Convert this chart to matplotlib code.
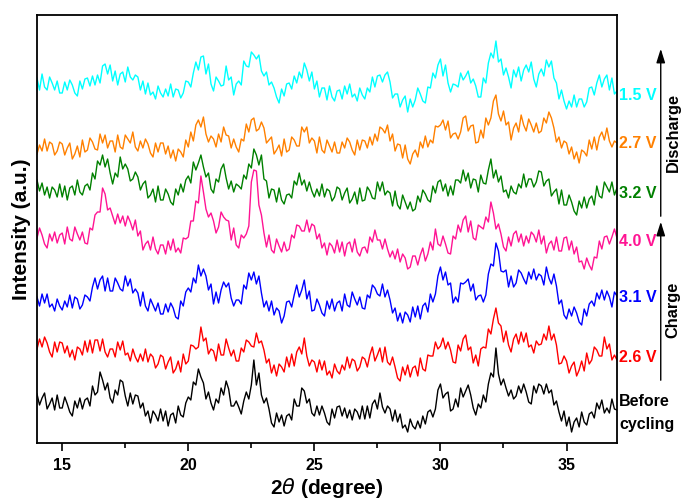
import numpy as np
import matplotlib
matplotlib.use('Agg')
import matplotlib.pyplot as plt

plt.rcParams['font.family'] = ['Liberation Sans', 'DejaVu Sans']

# 2theta grid, 0.1 degree steps from 14.0 to 37.0
two_theta = np.round(np.arange(14.0, 37.05, 0.1), 1)

# intensities (a.u.), one row per degree
before_cycling = [
    34, 23, 30, 35, 19, 24, 30, 18, 33, 20,
    20, 31, 24, 16, 12, 27, 20, 30, 19, 28,
    30, 22, 42, 33, 36, 56, 48, 38, 45, 30,
    25, 38, 33, 48, 46, 32, 22, 35, 24, 33,
    32, 20, 25, 12, 17, 5, 17, 13, 7, 19,
    7, 17, 2, 13, 15, 5, 22, 13, 11, 25,
    31, 28, 46, 43, 59, 51, 45, 29, 36, 25,
    18, 29, 25, 40, 33, 47, 39, 22, 22, 27,
    21, 14, 27, 36, 29, 43, 68, 43, 55, 33,
    25, 30, 19, 5, 1, 15, 6, 13, 2, 12,
    14, 8, 29, 22, 22, 40, 37, 25, 29, 15,
    12, 22, 13, 22, 15, 6, 3, 19, 10, 21,
    22, 12, 20, 10, 18, 8, 19, 16, 9, 22,
    9, 22, 10, 24, 28, 19, 35, 21, 15, 22,
    19, 7, 18, 6, 14, 0, 3, -4, 9, 2,
    -1, 7, 0, 12, 4, 16, 18, 11, 19, 38,
    44, 30, 34, 36, 17, 19, 29, 21, 40, 31,
    37, 43, 33, 20, 13, 24, 20, 33, 26, 44,
    55, 51, 80, 54, 43, 49, 40, 32, 38, 29,
    32, 42, 35, 44, 36, 26, 24, 42, 35, 44,
    42, 34, 44, 35, 38, 23, 27, 16, 7, 17,
    2, 11, -4, 6, 10, 1, 16, 6, 3, 14,
    16, 10, 25, 19, 28, 15, 20, 15, 29, 19,
    18]

charge_2p6 = [
    29, 39, 31, 41, 35, 26, 21, 36, 26, 36,
    35, 25, 32, 21, 28, 18, 31, 29, 23, 37,
    26, 38, 25, 38, 38, 27, 39, 26, 21, 29,
    29, 21, 36, 28, 37, 23, 25, 17, 29, 21,
    16, 24, 17, 29, 16, 24, 21, 10, 14, 23,
    21, 9, 16, 21, 5, 9, 17, 6, 24, 14,
    17, 33, 32, 29, 31, 51, 37, 40, 24, 29,
    27, 17, 34, 23, 23, 39, 30, 22, 28, 17,
    17, 30, 26, 38, 36, 32, 31, 45, 35, 37,
    28, 15, 19, 5, 13, 2, 14, 11, 6, 21,
    11, 24, 12, 26, 31, 24, 40, 22, 12, 18,
    16, 6, 18, 8, 17, 3, 7, 0, 14, 7,
    4, 13, 8, 21, 10, 19, 17, 7, 11, 21,
    19, 11, 23, 31, 17, 23, 30, 16, 31, 16,
    13, 21, 11, 0, -3, 11, 3, 13, 1, 10,
    12, 2, 20, 9, 7, 23, 22, 22, 36, 29,
    32, 40, 29, 36, 28, 16, 15, 33, 27, 39,
    43, 28, 31, 15, 23, 12, 29, 31, 30, 49,
    44, 59, 70, 55, 52, 36, 47, 33, 26, 39,
    44, 34, 46, 36, 45, 31, 33, 25, 37, 33,
    34, 44, 38, 52, 38, 44, 33, 14, 15, 22,
    17, 5, 12, 16, 2, 8, 17, 7, 25, 14,
    18, 31, 28, 22, 22, 41, 29, 34, 18, 23,
    18]

charge_3p1 = [
    26, 17, 29, 20, 29, 16, 19, 12, 24, 17,
    13, 22, 16, 28, 15, 26, 24, 14, 18, 28,
    26, 22, 36, 45, 34, 43, 47, 32, 45, 32,
    32, 45, 40, 34, 32, 47, 37, 44, 30, 34,
    30, 17, 31, 17, 12, 24, 18, 12, 20, 9,
    9, 19, 11, 20, 15, 6, 4, 22, 17, 31,
    35, 31, 45, 40, 58, 47, 54, 47, 33, 39,
    19, 31, 20, 33, 41, 36, 40, 25, 17, 23,
    23, 19, 38, 34, 50, 43, 51, 39, 47, 30,
    16, 22, 12, 22, 8, 15, 12, 0, 7, 21,
    22, 16, 28, 38, 26, 33, 43, 24, 32, 12,
    13, 24, 18, 10, 7, 22, 14, 24, 12, 20,
    22, 12, 29, 18, 16, 31, 24, 18, 26, 15,
    14, 28, 25, 38, 35, 29, 27, 39, 26, 33,
    23, 10, 15, 2, 10, 0, 11, 8, 1, 16,
    6, 17, 4, 17, 20, 11, 29, 21, 29, 47,
    56, 43, 51, 38, 40, 20, 26, 21, 40, 39,
    41, 44, 32, 39, 23, 27, 28, 21, 28, 49,
    59, 57, 80, 72, 52, 51, 53, 36, 47, 36,
    40, 53, 50, 44, 39, 51, 44, 54, 43, 49,
    47, 38, 56, 45, 39, 49, 37, 19, 23, 8,
    4, 14, 7, 16, 10, 1, -2, 14, 7, 19,
    22, 17, 30, 24, 33, 23, 32, 26, 16, 31,
    27]

charge_4p0 = [
    30, 40, 33, 24, 20, 34, 27, 36, 25, 33,
    35, 24, 41, 29, 27, 41, 34, 28, 36, 25,
    24, 40, 38, 53, 56, 56, 80, 74, 58, 60,
    52, 44, 54, 45, 52, 42, 52, 46, 38, 48,
    32, 37, 18, 24, 27, 18, 31, 19, 14, 23,
    23, 14, 27, 18, 29, 16, 20, 15, 30, 29,
    31, 47, 47, 67, 65, 92, 76, 59, 51, 55,
    47, 35, 41, 56, 51, 48, 47, 28, 40, 23,
    20, 33, 30, 34, 42, 86, 98, 97, 63, 53,
    35, 21, 33, 18, 15, 29, 22, 16, 26, 17,
    19, 33, 30, 43, 42, 37, 37, 48, 36, 44,
    42, 29, 34, 20, 25, 13, 25, 22, 15, 28,
    16, 26, 12, 24, 26, 16, 29, 16, 12, 20,
    21, 15, 31, 26, 38, 28, 28, 19, 29, 19,
    11, 17, 9, 19, 6, 14, 10, -1, 1, 12,
    12, 3, 13, 20, 7, 14, 26, 18, 39, 24,
    22, 32, 24, 15, 14, 32, 29, 43, 36, 48,
    52, 36, 47, 30, 28, 43, 41, 39, 51, 46,
    66, 55, 39, 44, 34, 21, 17, 31, 22, 34,
    37, 26, 34, 22, 32, 25, 36, 33, 26, 38,
    24, 32, 15, 24, 27, 18, 31, 17, 17, 30,
    31, 18, 27, 14, 21, 6, 7, -1, 10, 3,
    -2, 11, 10, 27, 19, 31, 32, 24, 31, 39,
    30]

discharge_3p2 = [
    33, 22, 30, 18, 26, 15, 26, 23, 16, 29,
    16, 27, 13, 25, 27, 18, 33, 21, 18, 27,
    29, 23, 40, 34, 52, 48, 58, 46, 54, 40,
    29, 40, 36, 56, 44, 49, 44, 32, 34, 41,
    36, 23, 29, 32, 15, 18, 24, 11, 27, 13,
    13, 24, 19, 11, 8, 24, 18, 29, 21, 33,
    37, 30, 51, 43, 50, 58, 46, 36, 40, 24,
    20, 34, 31, 44, 49, 35, 24, 32, 21, 29,
    27, 24, 38, 34, 49, 45, 64, 58, 48, 58,
    34, 32, 15, 24, 23, 11, 25, 13, 9, 18,
    19, 15, 32, 28, 40, 28, 33, 22, 31, 22,
    16, 24, 17, 29, 16, 24, 22, 12, 16, 26,
    24, 13, 20, 25, 10, 14, 21, 9, 25, 12,
    13, 26, 22, 15, 14, 31, 22, 31, 18, 22,
    20, 7, 22, 8, 4, 18, 11, 4, 11, 2,
    4, 17, 11, 23, 19, 13, 11, 27, 20, 31,
    33, 22, 29, 17, 27, 18, 33, 33, 30, 43,
    32, 40, 25, 34, 33, 21, 38, 30, 29, 43,
    54, 35, 43, 31, 37, 21, 23, 15, 27, 21,
    19, 29, 25, 39, 26, 34, 34, 26, 31, 42,
    41, 27, 32, 34, 17, 21, 24, 9, 23, 8,
    8, 18, 11, 2, -2, 12, 5, 16, 5, 14,
    17, 8, 27, 17, 15, 31, 26, 21, 31, 18,
    25]

discharge_2p7 = [
    9, 18, 12, 24, 12, 21, 19, 8, 12, 21,
    19, 8, 15, 20, 4, 9, 17, 6, 23, 11,
    13, 25, 21, 14, 13, 29, 20, 28, 15, 22,
    22, 11, 28, 16, 14, 28, 24, 20, 31, 16,
    12, 22, 15, 24, 19, 10, 6, 20, 11, 20,
    20, 9, 17, 5, 13, 2, 14, 11, 6, 23,
    16, 31, 22, 38, 43, 36, 46, 29, 21, 27,
    24, 16, 29, 21, 36, 28, 27, 15, 24, 16,
    11, 24, 22, 39, 31, 43, 45, 32, 34, 41,
    35, 20, 23, 26, 9, 13, 18, 7, 24, 11,
    13, 26, 23, 17, 17, 36, 31, 36, 20, 25,
    22, 10, 26, 13, 10, 23, 17, 11, 21, 10,
    10, 21, 15, 25, 21, 13, 8, 23, 13, 23,
    22, 15, 26, 18, 29, 22, 36, 34, 30, 38,
    22, 29, 12, 19, 18, 5, 18, 4, -1, 9,
    13, 6, 21, 15, 27, 16, 23, 20, 37, 36,
    38, 43, 33, 42, 25, 29, 30, 24, 31, 45,
    47, 32, 37, 38, 20, 21, 33, 25, 45, 38,
    45, 62, 68, 49, 42, 52, 38, 41, 23, 35,
    40, 31, 48, 38, 32, 44, 38, 31, 40, 30,
    32, 45, 40, 51, 45, 35, 21, 26, 15, 22,
    20, 9, 16, 4, 11, 0, 13, 11, 7, 23,
    14, 26, 13, 26, 31, 23, 35, 22, 16, 22,
    20]

discharge_1p5 = [
    35, 23, 39, 26, 23, 36, 30, 23, 32, 20,
    20, 31, 23, 33, 28, 20, 17, 32, 24, 34,
    35, 27, 37, 28, 38, 30, 47, 49, 39, 48,
    32, 42, 28, 39, 41, 31, 46, 36, 33, 38,
    36, 23, 32, 19, 30, 18, 21, 14, 27, 20,
    16, 24, 17, 29, 16, 24, 23, 15, 20, 32,
    31, 26, 40, 51, 43, 56, 57, 39, 49, 29,
    22, 36, 32, 27, 28, 47, 33, 36, 18, 29,
    32, 28, 52, 47, 46, 61, 58, 54, 58, 42,
    37, 41, 28, 31, 25, 16, 10, 24, 17, 29,
    30, 24, 37, 30, 41, 35, 50, 43, 32, 41,
    24, 32, 16, 25, 25, 13, 27, 16, 12, 22,
    23, 14, 27, 19, 29, 16, 19, 12, 25, 18,
    14, 25, 21, 36, 26, 37, 38, 31, 38, 41,
    31, 15, 19, 19, 6, 13, 17, 1, 14, 6,
    13, 25, 19, 12, 10, 26, 25, 40, 35, 48,
    54, 37, 48, 30, 21, 29, 28, 26, 40, 33,
    37, 42, 30, 34, 27, 16, 16, 35, 30, 50,
    60, 55, 72, 51, 54, 38, 45, 36, 25, 43,
    36, 46, 32, 43, 48, 41, 51, 34, 26, 39,
    44, 37, 53, 46, 52, 35, 30, 14, 23, 12,
    4, 12, 6, 18, 6, 14, 14, 6, 11, 25,
    26, 18, 30, 38, 26, 34, 38, 23, 35, 19,
    22]

series = [before_cycling, charge_2p6, charge_3p1, charge_4p0,
          discharge_3p2, discharge_2p7, discharge_1p5]
labels = ['Before\ncycling', '2.6 V', '3.1 V', '4.0 V', '3.2 V', '2.7 V', '1.5 V']
colors = ['#000000', '#ff0000', '#0000ff', '#ff1493', '#008000', '#ff8000', '#00ffff']
offsets = [15, 65, 120, 175, 230, 280, 330]
label_y = [30, 85, 146, 202, 250, 300, 348]

fig = plt.figure(figsize=(6.84, 5.0), dpi=100, facecolor='white')
ax = fig.add_axes([0.0541, 0.114, 0.8479, 0.856])

for vals, off, col, lab, ly in zip(series, offsets, colors, labels, label_y):
    ax.plot(two_theta, np.array(vals) + off, color=col, lw=1.0)
    ax.text(37.08, ly, lab, color=col, fontsize=11.5, fontweight='bold',
            ha='left', va='center', linespacing=1.6, clip_on=False)

ax.set_xlim(14, 37)
ax.set_ylim(0, 428)
ax.set_xticks([15, 20, 25, 30, 35])
ax.set_xticks([17.5, 22.5, 27.5, 32.5], minor=True)
ax.set_yticks([])
ax.tick_params(axis='x', which='major', direction='out', length=6, width=1.2,
               labelsize=11.5, pad=5)
ax.tick_params(axis='x', which='minor', direction='out', length=3.5, width=1.2)
for lbl in ax.get_xticklabels():
    lbl.set_fontweight('bold')
for sp in ax.spines.values():
    sp.set_linewidth(1.3)

ax.set_xlabel(r'2$\theta$ (degree)', fontsize=15, fontweight='bold', labelpad=2)
ax.set_ylabel('Intensity (a.u.)', fontsize=15, fontweight='bold', labelpad=4)

# charge / discharge arrows on the right
arrow_kw = dict(arrowstyle='-|>,head_width=0.22,head_length=0.7', color='black', lw=1.0)
fig.add_artist(matplotlib.patches.FancyArrowPatch(
    (0.966, 0.234), (0.966, 0.562), transform=fig.transFigure, mutation_scale=12, **arrow_kw))
fig.add_artist(matplotlib.patches.FancyArrowPatch(
    (0.966, 0.562), (0.966, 0.908), transform=fig.transFigure, mutation_scale=12, **arrow_kw))
fig.text(0.984, 0.734, 'Discharge', rotation=90, fontsize=11.8, fontweight='bold',
         ha='center', va='center')
fig.text(0.984, 0.38, 'Charge', rotation=90, fontsize=11.8, fontweight='bold',
         ha='center', va='center')

fig.savefig('out.png', dpi=100, facecolor='white')
